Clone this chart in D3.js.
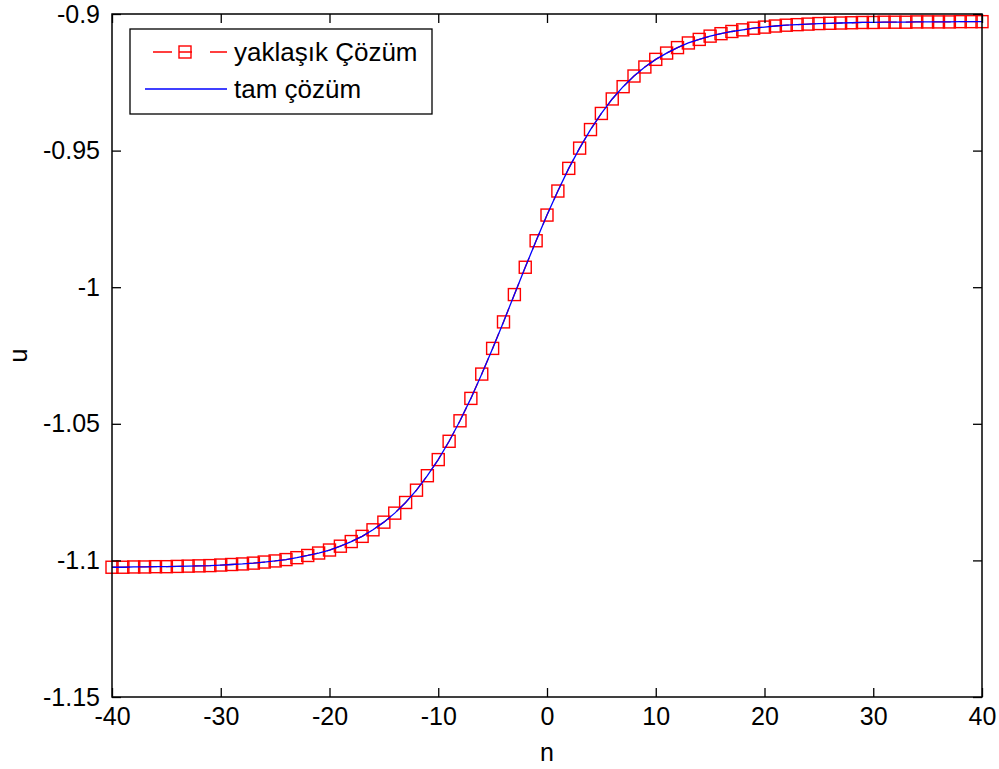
<!DOCTYPE html>
<html>
<head>
<meta charset="utf-8">
<script src="https://cdn.jsdelivr.net/npm/d3@7"></script>
<style>
  body { margin: 0; background: #fff; }
  text { font-family: "Liberation Sans", Arial, sans-serif; }
</style>
</head>
<body>
<div id="chart"></div>
<script>
// n values (grid points)
const nValues = d3.range(-40, 41);

// yaklaşık çözüm (approximate solution)
const approxValues = [
  -1.1025, -1.1025, -1.1024, -1.1024, -1.1023, -1.1023, -1.1022, -1.1021, -1.1020, -1.1019,
  -1.1017, -1.1015, -1.1013, -1.1010, -1.1006, -1.1002, -1.0997, -1.0990, -1.0982, -1.0973,
  -1.0962, -1.0948, -1.0931, -1.0912, -1.0888, -1.0860, -1.0827, -1.0788, -1.0743, -1.0690,
  -1.0631, -1.0564, -1.0489, -1.0407, -1.0318, -1.0224, -1.0127, -1.0027, -0.9927, -0.9830,
  -0.9736, -0.9648, -0.9565, -0.9491, -0.9423, -0.9364, -0.9311, -0.9266, -0.9227, -0.9194,
  -0.9166, -0.9143, -0.9123, -0.9106, -0.9093, -0.9081, -0.9072, -0.9064, -0.9058, -0.9052,
  -0.9048, -0.9044, -0.9041, -0.9039, -0.9037, -0.9035, -0.9034, -0.9033, -0.9032, -0.9031,
  -0.9031, -0.9030, -0.9030, -0.9030, -0.9029, -0.9029, -0.9029, -0.9029, -0.9028, -0.9028,
  -0.9028
];

// tam çözüm (exact solution) - lies on top of the approximate one
const exactValues = [
  -1.1025, -1.1025, -1.1024, -1.1024, -1.1023, -1.1023, -1.1022, -1.1021, -1.1020, -1.1019,
  -1.1017, -1.1015, -1.1013, -1.1010, -1.1006, -1.1002, -1.0997, -1.0990, -1.0982, -1.0973,
  -1.0962, -1.0948, -1.0931, -1.0912, -1.0888, -1.0860, -1.0827, -1.0788, -1.0743, -1.0690,
  -1.0631, -1.0564, -1.0489, -1.0407, -1.0318, -1.0224, -1.0127, -1.0027, -0.9927, -0.9830,
  -0.9736, -0.9648, -0.9565, -0.9491, -0.9423, -0.9364, -0.9311, -0.9266, -0.9227, -0.9194,
  -0.9166, -0.9143, -0.9123, -0.9106, -0.9093, -0.9081, -0.9072, -0.9064, -0.9058, -0.9052,
  -0.9048, -0.9044, -0.9041, -0.9039, -0.9037, -0.9035, -0.9034, -0.9033, -0.9032, -0.9031,
  -0.9031, -0.9030, -0.9030, -0.9030, -0.9029, -0.9029, -0.9029, -0.9029, -0.9028, -0.9028,
  -0.9028
];

const xTicks = [-40, -30, -20, -10, 0, 10, 20, 30, 40];
const yTicks = [-1.15, -1.1, -1.05, -1, -0.95, -0.9];
const yTickLabels = ["-1.15", "-1.1", "-1.05", "-1", "-0.95", "-0.9"];
const seriesNames = ["yaklaşık Çözüm", "tam çözüm"];

const width = 999, height = 769;
const margin = { left: 112, right: 17, top: 14, bottom: 72 };
const fontSize = "25px";

const svg = d3.select("#chart")
  .append("svg")
  .attr("width", width)
  .attr("height", height);

const x = d3.scaleLinear().domain([-40, 40]).range([margin.left, width - margin.right]);
const y = d3.scaleLinear().domain([-1.15, -0.9]).range([height - margin.bottom, margin.top]);

const approx = nValues.map((n, i) => ({ n, u: approxValues[i] }));
const exact = nValues.map((n, i) => ({ n, u: exactValues[i] }));

const line = d3.line().x(d => x(d.n)).y(d => y(d.u));

// approximate: red dashed line + squares
svg.append("path")
  .datum(approx)
  .attr("d", line)
  .attr("fill", "none")
  .attr("stroke", "#ff0000")
  .attr("stroke-width", 1.3)
  .attr("stroke-dasharray", "18,9");

const sq = 12;
svg.selectAll(".mark")
  .data(approx)
  .enter()
  .append("rect")
  .attr("x", d => x(d.n) - sq / 2)
  .attr("y", d => y(d.u) - sq / 2)
  .attr("width", sq)
  .attr("height", sq)
  .attr("fill", "none")
  .attr("stroke", "#ff0000")
  .attr("stroke-width", 1.4);

// exact: blue solid line
svg.append("path")
  .datum(exact)
  .attr("d", line)
  .attr("fill", "none")
  .attr("stroke", "#0000ff")
  .attr("stroke-width", 1.3);

// axes with inward ticks
const bottomAxis = d3.axisBottom(x).tickValues(xTicks).tickSizeInner(-9).tickSizeOuter(0).tickPadding(10).tickFormat(d => String(d));
const leftAxis = d3.axisLeft(y).tickValues(yTicks).tickSizeInner(-9).tickSizeOuter(0).tickPadding(12)
  .tickFormat((d, i) => yTickLabels[i]);
const topAxis = d3.axisTop(x).tickValues(xTicks).tickSizeInner(-9).tickSizeOuter(0).tickFormat("");
const rightAxis = d3.axisRight(y).tickValues(yTicks).tickSizeInner(-9).tickSizeOuter(0).tickFormat("");

const gB = svg.append("g").attr("transform", `translate(0,${height - margin.bottom})`).call(bottomAxis);
const gL = svg.append("g").attr("transform", `translate(${margin.left},0)`).call(leftAxis);
const gT = svg.append("g").attr("transform", `translate(0,${margin.top})`).call(topAxis);
const gR = svg.append("g").attr("transform", `translate(${width - margin.right},0)`).call(rightAxis);

[gB, gL, gT, gR].forEach(g => {
  g.selectAll(".domain").remove();
  g.selectAll(".tick line").attr("stroke", "#000").attr("stroke-width", 1.3);
  g.selectAll("text").attr("fill", "#000").style("font-size", fontSize).style("font-family", '"Liberation Sans", Arial, sans-serif');
});

// box
svg.append("rect")
  .attr("x", margin.left)
  .attr("y", margin.top)
  .attr("width", width - margin.left - margin.right)
  .attr("height", height - margin.top - margin.bottom)
  .attr("fill", "none")
  .attr("stroke", "#000")
  .attr("stroke-width", 1.5);

// axis labels
svg.append("text")
  .attr("x", x(0))
  .attr("y", 761)
  .attr("text-anchor", "middle")
  .style("font-size", fontSize)
  .text("n");

svg.append("text")
  .attr("transform", `translate(27,${y(-1.025)}) rotate(-90)`)
  .attr("text-anchor", "middle")
  .style("font-size", fontSize)
  .text("u");

// legend
const legend = svg.append("g").attr("transform", "translate(130,29)");
legend.append("rect")
  .attr("width", 302)
  .attr("height", 85)
  .attr("fill", "#fff")
  .attr("stroke", "#000")
  .attr("stroke-width", 1.3);

legend.append("line")
  .attr("x1", 23).attr("x2", 97).attr("y1", 23).attr("y2", 23)
  .attr("stroke", "#ff0000").attr("stroke-width", 1.3)
  .attr("stroke-dasharray", "19,7,13,18,17");
legend.append("rect")
  .attr("x", 55 - sq / 2).attr("y", 23 - sq / 2)
  .attr("width", sq).attr("height", sq)
  .attr("fill", "none").attr("stroke", "#ff0000").attr("stroke-width", 1.4);
legend.append("line")
  .attr("x1", 15).attr("x2", 97).attr("y1", 60).attr("y2", 60)
  .attr("stroke", "#0000ff").attr("stroke-width", 1.3);

legend.selectAll(".lbl")
  .data(seriesNames)
  .enter()
  .append("text")
  .attr("x", 104)
  .attr("y", (d, i) => 23 + i * 37)
  .attr("dy", "0.35em")
  .style("font-size", "26px")
  .text(d => d);
</script>
</body>
</html>
